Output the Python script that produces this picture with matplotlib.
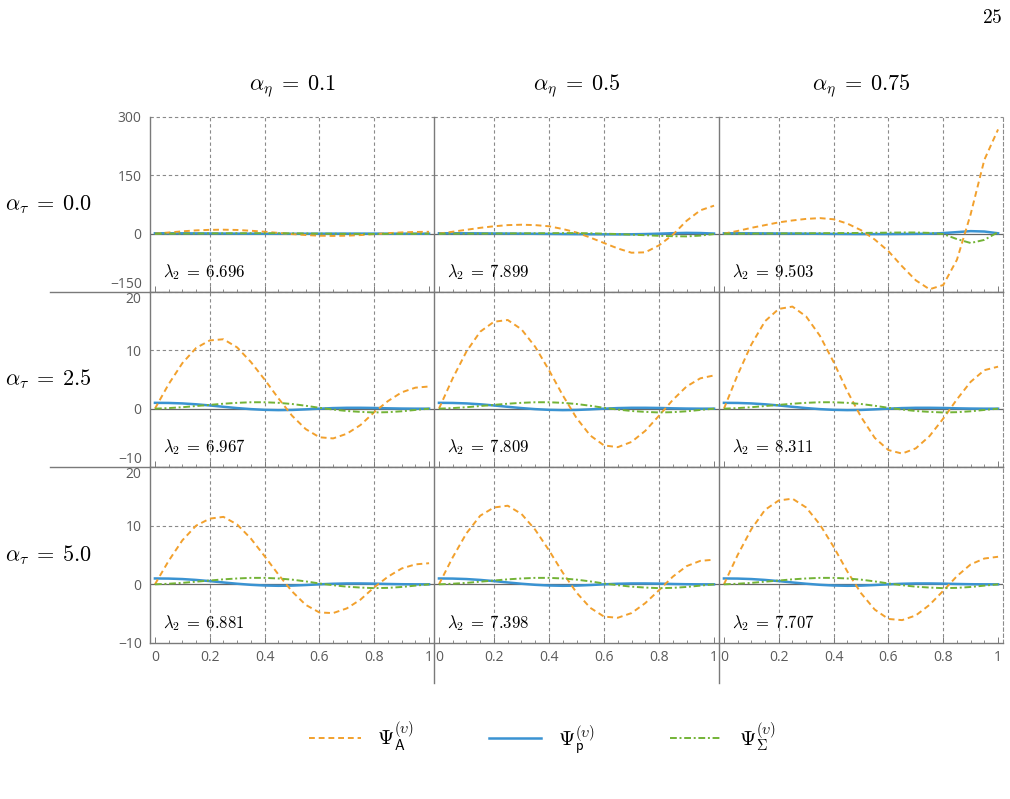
import matplotlib
matplotlib.use("Agg")
import matplotlib.pyplot as plt
from matplotlib.lines import Line2D
import numpy as np

plt.rcParams['mathtext.fontset'] = 'cm'
plt.rcParams['font.family'] = ['Open Sans', 'DejaVu Sans']

# sample positions along the domain
x_vals = [0.0, 0.05, 0.1, 0.15, 0.2, 0.25, 0.3, 0.35, 0.4, 0.45, 0.5,
          0.55, 0.6, 0.65, 0.7, 0.75, 0.8, 0.85, 0.9, 0.95, 1.0]

eta_labels = [r'$\alpha_\eta \;=\: 0.1$', r'$\alpha_\eta \;=\: 0.5$', r'$\alpha_\eta \;=\: 0.75$']
tau_labels = [r'$\alpha_\tau \;=\: 0.0$', r'$\alpha_\tau \;=\: 2.5$', r'$\alpha_\tau \;=\: 5.0$']
lambda2 = [['6.696', '7.899', '9.503'],
           ['6.967', '7.809', '8.311'],
           ['6.881', '7.398', '7.707']]

# Psi_A (orange dashed)
psiA_t0_e1 = [0, 3, 6, 8.5, 9.8, 10.2, 9.5, 7.5, 5, 2, -1, -3.5, -5.2, -5.8, -5.2, -3.6, -1.2, 1.2, 3.2, 4.4, 4.8]
psiA_t0_e2 = [0, 5, 10, 15, 19, 22, 23, 22, 19, 12, 3, -10, -24, -38, -49, -48, -30, -3, 33, 60, 72]
psiA_t0_e3 = [0, 7, 15, 22, 29, 34, 38, 40, 37, 26, 9, -15, -45, -84, -120, -143, -132, -67, 50, 190, 268]
psiA_t25_e1 = [0, 4.2, 7.8, 10.4, 11.7, 11.9, 10.5, 8.0, 5.0, 1.8, -1.2, -3.5, -4.9, -5.1, -4.3, -2.8, -0.6, 1.3, 2.8, 3.6, 3.8]
psiA_t25_e2 = [0, 5.2, 9.8, 13.2, 14.9, 15.2, 13.6, 10.6, 6.6, 2.3, -1.6, -4.6, -6.3, -6.6, -5.7, -3.8, -1.2, 1.5, 3.8, 5.2, 5.7]
psiA_t25_e3 = [0, 5.8, 11.0, 15.0, 17.1, 17.5, 15.8, 12.5, 8.0, 3.0, -1.4, -5.0, -7.1, -7.7, -6.8, -4.7, -1.7, 1.6, 4.6, 6.6, 7.2]
psiA_t5_e1 = [0, 4.0, 7.5, 10.0, 11.2, 11.5, 10.2, 7.8, 4.8, 1.7, -1.2, -3.5, -4.8, -4.9, -4.1, -2.6, -0.5, 1.3, 2.7, 3.4, 3.6]
psiA_t5_e2 = [0, 4.6, 8.7, 11.7, 13.1, 13.4, 12.0, 9.3, 5.8, 2.0, -1.4, -4.0, -5.5, -5.7, -4.9, -3.2, -1.0, 1.3, 3.1, 4.0, 4.2]
psiA_t5_e3 = [0, 5.0, 9.4, 12.7, 14.3, 14.6, 13.1, 10.2, 6.4, 2.2, -1.5, -4.3, -5.9, -6.1, -5.3, -3.5, -1.1, 1.4, 3.4, 4.4, 4.7]

# Psi_p (blue solid)
psiP_small = [1.0, 0.98, 0.9, 0.75, 0.55, 0.32, 0.1, -0.08, -0.2, -0.25, -0.22, -0.12, 0.0, 0.1, 0.15, 0.15, 0.12, 0.06, 0.02, 0.0, 0.0]
psiP_t0_e2 = [1, 1, 1, 0.8, 0.5, 0.3, 0, -0.3, -0.6, -0.9, -1.2, -1.5, -1.7, -1.8, -1.6, -1.0, 0, 1.2, 2.0, 1.6, 0.3]
psiP_t0_e3 = [1, 1, 0.9, 0.7, 0.5, 0.3, 0, -0.3, -0.6, -0.8, -1, -1.1, -1, -0.8, -0.5, 0, 1.5, 4, 6.5, 5.5, 1]

# Psi_Sigma (green dash-dot)
psiS_small = [0, 0.1, 0.25, 0.45, 0.65, 0.85, 1.0, 1.1, 1.1, 1.0, 0.8, 0.5, 0.15, -0.15, -0.4, -0.55, -0.65, -0.6, -0.45, -0.22, 0.0]
psiS_t0_e2 = [0, 0, 0.1, 0.2, 0.4, 0.6, 0.8, 1.0, 1.2, 1.5, 1.5, 1.0, 0, -1, -2.5, -4, -5.5, -6.5, -7, -5, -1]
psiS_t0_e3 = [0, 0.1, 0.2, 0.4, 0.6, 0.8, 1, 1.2, 1.4, 1.6, 1.9, 2.2, 2.6, 3, 3, 2, -1, -14, -24, -16, 4]

psiA = [[psiA_t0_e1, psiA_t0_e2, psiA_t0_e3],
        [psiA_t25_e1, psiA_t25_e2, psiA_t25_e3],
        [psiA_t5_e1, psiA_t5_e2, psiA_t5_e3]]
psiP = [[psiP_small, psiP_t0_e2, psiP_t0_e3],
        [psiP_small, psiP_small, psiP_small],
        [psiP_small, psiP_small, psiP_small]]
psiS = [[psiS_small, psiS_t0_e2, psiS_t0_e3],
        [psiS_small, psiS_small, psiS_small],
        [psiS_small, psiS_small, psiS_small]]

row_ylim = [(-150, 300), (-10, 20), (-10, 20)]
row_yticks = [[-150, 0, 150, 300], [-10, 0, 10, 20], [-10, 0, 10, 20]]
row_yticklabels = [['\u2212150', '0', '150', '300'], ['\u221210', '0', '10', '20'], ['\u221210', '0', '10', '20']]

c_orange = '#F2A02C'
c_blue = '#3A93D2'
c_green = '#73B336'
c_frame = '#7a7a7a'
c_grid = '#8a8a8a'

W, H = 1010, 799
fig = plt.figure(figsize=(W / 100, H / 100), dpi=100)

col_edges = [150, 434, 719, 1003]
row_edges = [117, 292, 467, 643]

handles = None
for r in range(3):
    for c in range(3):
        left = col_edges[c] / W
        width = (col_edges[c + 1] - col_edges[c]) / W
        bottom = 1 - row_edges[r + 1] / H
        height = (row_edges[r + 1] - row_edges[r]) / H
        ax = fig.add_axes([left, bottom, width, height])
        ax.set_xlim(-0.018, 1.018)
        ax.set_ylim(*row_ylim[r])

        # grid
        for gx in [0.2, 0.4, 0.6, 0.8]:
            ax.axvline(gx, color=c_grid, lw=0.8, dashes=(3, 2.5), zorder=1)
        for gy in row_yticks[r]:
            if gy not in (0, row_ylim[r][0]):
                ax.axhline(gy, color=c_grid, lw=0.8, dashes=(3, 2.5), zorder=1, clip_on=False)
        ax.axhline(0, color='#666666', lw=0.9, zorder=2)

        la, = ax.plot(x_vals, psiA[r][c], color=c_orange, lw=1.4, dashes=(3, 2), zorder=4)
        lp, = ax.plot(x_vals, psiP[r][c], color=c_blue, lw=1.8, zorder=3)
        ls, = ax.plot(x_vals, psiS[r][c], color=c_green, lw=1.4, dashes=(3.5, 1.4, 1, 1.4), zorder=4)
        if handles is None:
            handles = [la, lp, ls]

        ax.text(0.046, 0.114, r'$\lambda_2 \;=\: %s$' % lambda2[r][c], transform=ax.transAxes,
                fontsize=12, va='center', ha='left', zorder=5)

        # spines
        for s in ['top', 'right']:
            ax.spines[s].set_visible(False)
        ax.spines['left'].set_color(c_frame)
        ax.spines['left'].set_linewidth(1.0)
        ax.spines['bottom'].set_color(c_frame)
        ax.spines['bottom'].set_linewidth(1.0)
        if c == 2:
            ax.spines['right'].set_visible(True)
            ax.spines['right'].set_color(c_grid)
            ax.spines['right'].set_linewidth(0.8)
            ax.spines['right'].set_linestyle((0, (3, 2.5)))

        ax.set_xticks([0, 0.2, 0.4, 0.6, 0.8, 1.0])
        ax.set_xticks(np.arange(0, 1.0001, 0.05), minor=True)
        ax.tick_params(axis='x', which='major', direction='in', length=4, width=0.7,
                       color=c_frame, labelsize=10, labelcolor='#5a5a5a', pad=5)
        ax.tick_params(axis='x', which='minor', direction='in', length=2.2, width=0.6, color=c_frame)
        if r == 2:
            ax.set_xticklabels(['0', '0.2', '0.4', '0.6', '0.8', '1'])
        else:
            ax.set_xticklabels([])

        ax.set_yticks(row_yticks[r])
        ax.tick_params(axis='y', length=0, pad=6, labelsize=10, labelcolor='#5a5a5a')
        if c == 0:
            ax.set_yticklabels(row_yticklabels[r])
            labs = ax.get_yticklabels()
            if r < 2:
                labs[0].set_verticalalignment('bottom')
            if r > 0:
                labs[-1].set_verticalalignment('top')
        else:
            ax.set_yticklabels([])
            ax.spines['left'].set_visible(False)

# separators between the panels
for yp in [292, 467]:
    fig.add_artist(Line2D([50 / W, 1003 / W], [1 - yp / H, 1 - yp / H],
                          transform=fig.transFigure, color=c_frame, lw=1.0))
for xp in [434, 719]:
    fig.add_artist(Line2D([xp / W, xp / W], [1 - 117 / H, 1 - 683 / H],
                          transform=fig.transFigure, color=c_frame, lw=1.0))

for c in range(3):
    xc = (col_edges[c] + col_edges[c + 1]) / 2 / W
    fig.text(xc, 1 - 86 / H, eta_labels[c], fontsize=16, ha='center', va='center')
for r in range(3):
    yc = 1 - (row_edges[r] + row_edges[r + 1]) / 2 / H
    fig.text(48 / W, yc, tau_labels[r], fontsize=16, ha='center', va='center')

fig.text(992 / W, 1 - 18 / H, r'$25$', fontsize=14, ha='center', va='center')

leg = fig.legend(handles,
                 [r'$\Psi_{\mathsf{A}}^{(\upsilon)}$', r'$\Psi_{\mathsf{p}}^{(\upsilon)}$',
                  r'$\Psi_{\Sigma}^{(\upsilon)}$'],
                 loc='center', bbox_to_anchor=(542 / W, 1 - 738 / H), ncol=3, frameon=False,
                 fontsize=15, handlelength=2.5, handletextpad=0.8, columnspacing=3.6)

fig.savefig('out.png', dpi=100)
